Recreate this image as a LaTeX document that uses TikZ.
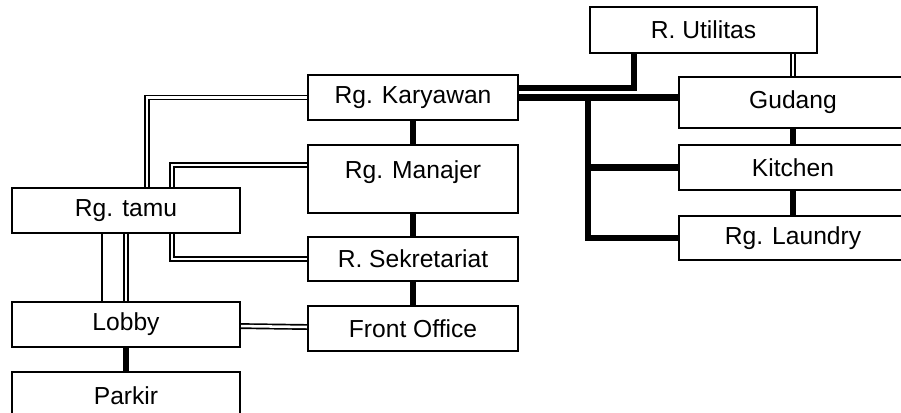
\documentclass[tikz,border=0pt]{standalone}
\usepackage{fontspec}
\setmainfont{Liberation Sans}
\usepackage{tikz}
\usetikzlibrary{positioning, calc}

\begin{document}
\begin{tikzpicture}[x=0.025cm, y=-0.025cm]
% Styles
\tikzstyle{room} = [rectangle, draw=black, line width=1.4pt, fill=white, inner sep=0pt, minimum width=5.25cm, minimum height=1.125cm, text centered, font=\fontsize{17.5}{20}\selectfont]
\tikzstyle{boldline} = [line width=4.5pt]
\tikzstyle{doubleline} = [double, line width=1.2pt, double distance=1.8pt]
\tikzstyle{thinline} = [line width=0.9pt]

\useasboundingbox (0,0) rectangle (901,413);

\node (r_utilitas) [room, minimum width=5.675cm, minimum height=1.15cm] at (703.5,30) {R. Utilitas};
\node (rg_karyawan) [room] at (413,97.5) {Rg. Karyawan};
\node (rg_manajer) [room, below=0.575cm of rg_karyawan, minimum height=1.7cm, text height=0.5cm, text depth=0.5cm] {Rg. Manajer};
\node (r_sekretariat) [room, below=0.55cm of rg_manajer, minimum height=1.1cm] {R. Sekretariat};
\node (front_office) [room, below=0.575cm of r_sekretariat] {Front Office};
\node (gudang) [room, minimum width=5.7cm, minimum height=1.275cm] at (793,102.5) {Gudang};
\node (kitchen) [room, minimum width=5.7cm, below=0.375cm of gudang] {Kitchen};
\node (rg_laundry) [room, minimum width=5.7cm, minimum height=1.1cm, below=0.6cm of kitchen] {Rg. Laundry};
\node (rg_tamu) [room, minimum width=5.7cm] at (126,210.5) {Rg. tamu};
\node (lobby) [room, minimum width=5.7cm, below=1.675cm of rg_tamu] {Lobby};
\node (parkir) [room, minimum width=5.7cm, minimum height=1.175cm, below=0.575cm of lobby] {Parkir};

\coordinate (bus) at ($(rg_karyawan.east)+(69,0)$);

\draw [boldline] ($(rg_karyawan.east)+(0,-9.5)$) -| ($(r_utilitas.south west)+(45,0)$);
\draw [boldline] (rg_karyawan.east) -- (rg_karyawan.east -| gudang.west);
\draw [boldline] (bus) |- (kitchen.west);
\draw [boldline] (bus) |- (rg_laundry.west);
\draw [doubleline] (r_utilitas.south -| gudang.north) -- (gudang.north);
\draw [boldline] (gudang) -- (kitchen);
\draw [boldline] (kitchen) -- (rg_laundry);

\draw [boldline] (rg_karyawan) -- (rg_manajer);
\draw [boldline] (rg_manajer) -- (r_sekretariat);
\draw [boldline] (r_sekretariat) -- (front_office);

\draw [doubleline] ($(rg_tamu.north west)+(136,0)$) |- (rg_karyawan.west);
\draw [doubleline] ($(rg_tamu.north west)+(161,0)$) |- ($(rg_manajer.west)+(0,-14)$);
\draw [doubleline] ($(rg_tamu.south west)+(161,0)$) |- (r_sekretariat.west);
\draw [thinline] ($(rg_tamu.south west)+(91,0)$) -- ($(lobby.north west)+(91,0)$);
\draw [doubleline] (rg_tamu) -- (lobby);
\draw [doubleline] (lobby) -- (front_office);
\draw [boldline] (lobby) -- (parkir);

\end{tikzpicture}
\end{document}
